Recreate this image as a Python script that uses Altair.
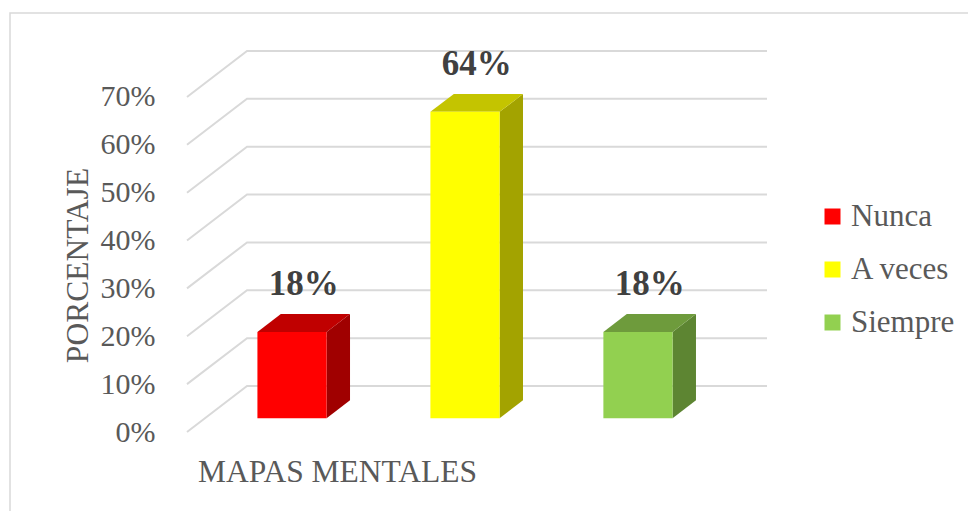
import altair as alt
import pandas as pd

# ---------------- data ----------------
categories = ["Nunca", "A veces", "Siempre"]
values = [0.18, 0.64, 0.18]
value_labels = ["18%", "64%", "18%"]
tick_values = [0, 0.1, 0.2, 0.3, 0.4, 0.5, 0.6, 0.7]
group_label = "MAPAS MENTALES"
axis_title = "PORCENTAJE"

# ---------------- styles ----------------
front_colors = ["#FF0000", "#FFFF00", "#92D050"]
top_colors = ["#C00000", "#C4C400", "#6E9B3C"]
side_colors = ["#A00000", "#A3A300", "#5D8532"]
GRID = "#D9D9D9"
TEXT = "#595959"
FONT = "Liberation Serif"

# pseudo-3D geometry, in scale units
HALF = 0.2      # half bar width (category units)
DX = 0.347      # x shift of full depth
DY = 0.0961     # y shift of full depth
FB, BK = 0.30, 0.69   # bar front / back depth fractions
X_DOMAIN = [-0.503, 2.850]
Y_DOMAIN = [0, 0.796]

xs = alt.Scale(domain=X_DOMAIN, nice=False, zero=False)
ys = alt.Scale(domain=Y_DOMAIN, nice=False, zero=False)

x_axis = alt.Axis(title=group_label, labels=False, ticks=False, domain=False, grid=False,
                  titleFont=FONT, titleFontSize=31.5, titleFontWeight="normal", titleColor=TEXT,
                  titleX=150, titleY=40, titleBaseline="middle", titleAlign="center")
y_axis = alt.Axis(title=axis_title, values=tick_values, format=".0%", ticks=False, tickSize=0,
                  domain=False, grid=False, labelPadding=32, labelFont=FONT, labelFontSize=30,
                  labelColor=TEXT, titleFont=FONT, titleFontSize=31.5, titleFontWeight="normal",
                  titleColor=TEXT, titleAngle=270, titleX=-100, titleY=214,
                  titleBaseline="alphabetic", titleAlign="center")

# ---------------- tables ----------------
grid_rows = []
for t in tick_values:
    grid_rows.append({"tick": t, "o": 0, "x": X_DOMAIN[0], "y": t})
    grid_rows.append({"tick": t, "o": 1, "x": X_DOMAIN[0] + DX, "y": t + DY})
    grid_rows.append({"tick": t, "o": 2, "x": X_DOMAIN[1], "y": t + DY})
grid_df = pd.DataFrame(grid_rows)

front_df = pd.DataFrame({
    "cat": categories,
    "x": [i - HALF + FB * DX for i in range(3)],
    "x2": [i + HALF + FB * DX for i in range(3)],
    "y": [FB * DY] * 3,
    "y2": [v + FB * DY for v in values],
})

side_rows, top_rows = [], []
for i, (c, v) in enumerate(zip(categories, values)):
    side_rows.append({"cat": c, "x": i + HALF + FB * DX, "y": FB * DY, "y2": v + FB * DY})
    side_rows.append({"cat": c, "x": i + HALF + BK * DX, "y": BK * DY, "y2": v + BK * DY})
    top_rows.append({"cat": c, "y": v + FB * DY, "x": i - HALF + FB * DX, "x2": i + HALF + FB * DX})
    top_rows.append({"cat": c, "y": v + BK * DY, "x": i - HALF + BK * DX, "x2": i + HALF + BK * DX})
side_df = pd.DataFrame(side_rows)
top_df = pd.DataFrame(top_rows)

label_df = pd.DataFrame({
    "cat": categories,
    "label": value_labels,
    "x": [i + (FB + BK) / 2 * DX for i in range(3)],
    "y": [v + BK * DY for v in values],
})

X = alt.X("x:Q", scale=xs, axis=x_axis)
Y = alt.Y("y:Q", scale=ys, axis=y_axis)

# ---------------- layers ----------------
border = alt.Chart(pd.DataFrame({"a": [0]})).mark_rect(
    fill=None, stroke=GRID, strokeWidth=1.5
).encode(x=alt.value(-177), x2=alt.value(800), y=alt.value(-38), y2=alt.value(480))

grid = alt.Chart(grid_df).mark_line(color=GRID, strokeWidth=2).encode(
    x=X, y=Y, detail="tick:N", order="o:Q"
)

side = alt.Chart(side_df).mark_area(orient="vertical", opacity=1).encode(
    x=X, y=Y, y2="y2:Q", detail="cat:N",
    color=alt.Color("cat:N", scale=alt.Scale(domain=categories, range=side_colors), legend=None),
)

top = alt.Chart(top_df).mark_area(orient="horizontal", opacity=1).encode(
    y=Y, x=X, x2="x2:Q", detail="cat:N",
    color=alt.Color("cat:N", scale=alt.Scale(domain=categories, range=top_colors), legend=None),
)

front = alt.Chart(front_df).mark_rect().encode(
    x=X, x2="x2:Q", y=Y, y2="y2:Q",
    color=alt.Color("cat:N", scale=alt.Scale(domain=categories, range=front_colors),
                    legend=alt.Legend(title=None, orient="none", legendX=630, legendY=150,
                                      symbolType="square", symbolSize=256, symbolStrokeWidth=0,
                                      labelFont=FONT, labelFontSize=31, labelColor=TEXT,
                                      labelOffset=3, rowPadding=21, padding=0)),
)

labels = alt.Chart(label_df).mark_text(
    font=FONT, fontSize=35, fontWeight="bold", color="#404040", baseline="middle", dy=-30
).encode(x=X, y=Y, text="label:N")

chart = alt.layer(border, grid, side, top, front, labels).resolve_scale(
    color="independent"
).properties(
    width=580, height=381,
    autosize=alt.AutoSizeParams(type="none"),
    padding={"left": 187, "top": 51, "right": 201, "bottom": 79},
    background="white",
).configure_view(stroke=None).configure_legend(
    labelFont=FONT, labelFontSize=31, labelColor=TEXT
)

chart.save("out.html", embed_options={"renderer": "svg", "actions": False})
